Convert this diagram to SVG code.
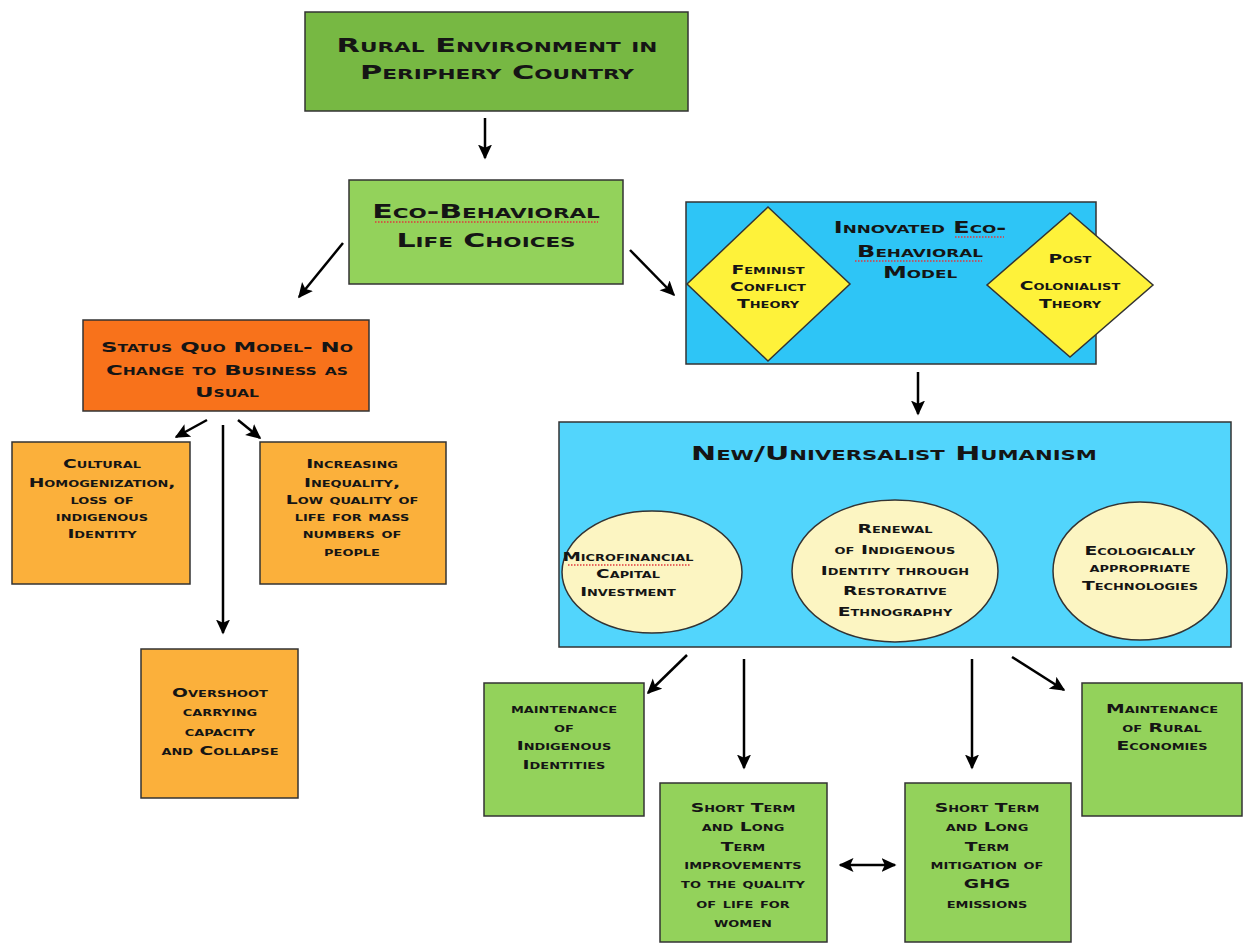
<svg xmlns="http://www.w3.org/2000/svg" width="1243" height="946" viewBox="0 0 1243 946">
<defs>
<marker id="ah" viewBox="0 0 10 10" refX="9" refY="5" markerWidth="6" markerHeight="6" orient="auto-start-reverse" markerUnits="strokeWidth">
<path d="M0,0.3 L10,5 L0,9.7 L2.2,5 z" fill="#000"/>
</marker>
<style>
.box{stroke:#333;stroke-width:1.5}
.t{font-family:"DejaVu Sans","Liberation Sans",sans-serif;font-weight:bold;font-variant:small-caps;text-anchor:middle;fill:#151515}
.c{stroke:#000;stroke-width:2.5;fill:none}
.sp{stroke:#e0393e;stroke-width:1.5;stroke-dasharray:1.5 1.5;fill:none}
</style>
</defs>
<rect width="1243" height="946" fill="#fff"/>

<g id="connectors">
<line class="c" x1="485" y1="118" x2="485" y2="158" marker-end="url(#ah)"/>
<line class="c" x1="343" y1="243" x2="299" y2="297" marker-end="url(#ah)"/>
<line class="c" x1="630" y1="250" x2="674" y2="295" marker-end="url(#ah)"/>
<line class="c" x1="918" y1="372" x2="918" y2="414" marker-end="url(#ah)"/>
<line class="c" x1="207" y1="420" x2="176" y2="437" marker-end="url(#ah)"/>
<line class="c" x1="238" y1="420" x2="260" y2="438" marker-end="url(#ah)"/>
<line class="c" x1="223" y1="425" x2="223" y2="633" marker-end="url(#ah)"/>
<line class="c" x1="742" y1="565" x2="792" y2="565" marker-start="url(#ah)" marker-end="url(#ah)"/>
<line class="c" x1="1000" y1="565" x2="1052" y2="565" marker-start="url(#ah)" marker-end="url(#ah)"/>
<line class="c" x1="687" y1="655" x2="648" y2="693" marker-end="url(#ah)"/>
<line class="c" x1="744" y1="659" x2="744" y2="768" marker-end="url(#ah)"/>
<line class="c" x1="972" y1="659" x2="972" y2="768" marker-end="url(#ah)"/>
<line class="c" x1="1012" y1="657" x2="1064" y2="690" marker-end="url(#ah)"/>
<line class="c" x1="840" y1="865" x2="895" y2="865" marker-start="url(#ah)" marker-end="url(#ah)"/>
</g>

<g id="rural-environment">
<rect class="box" x="305" y="12" width="383" height="99" fill="#77b843"/>
<g transform="translate(497 0) scale(1.6 1)">
<text class="t" x="0" y="52" font-size="19">Rural Environment in</text>
<text class="t" x="0" y="79" font-size="19">Periphery Country</text>
</g>
</g>

<g id="eco-behavioral">
<rect class="box" x="349" y="180" width="274" height="104" fill="#93d25b"/>
<g transform="translate(486 0) scale(1.58 1)">
<text class="t" x="0" y="218" font-size="19">Eco-Behavioral</text>
<text class="t" x="0" y="247" font-size="19">Life Choices</text>
</g>
<line class="sp" x1="375" y1="222" x2="598" y2="222"/>
</g>

<g id="innovated-model">
<rect class="box" x="686" y="202" width="410" height="162" fill="#2ec5f6"/>
<g transform="translate(920 0) scale(1.6 1)">
<text class="t" x="0" y="233" font-size="15">Innovated Eco-</text>
<text class="t" x="0" y="257" font-size="15">Behavioral</text>
<text class="t" x="0" y="278" font-size="15">Model</text>
</g>
<line class="sp" x1="955" y1="237" x2="1004" y2="237"/>
<line class="sp" x1="855" y1="261" x2="982" y2="261"/>
</g>

<g id="feminist-conflict-theory">
<polygon class="box" points="768,207 850,284 768,361 687,284" fill="#fef23a"/>
<g transform="translate(768 0) scale(1.5 1)">
<text class="t" x="0" y="274" font-size="12.5">Feminist</text>
<text class="t" x="0" y="291" font-size="12.5">Conflict</text>
<text class="t" x="0" y="308" font-size="12.5">Theory</text>
</g>
</g>

<g id="post-colonialist-theory">
<polygon class="box" points="1070,213 1153,285 1070,357 987,285" fill="#fef23a"/>
<g transform="translate(1070 0) scale(1.5 1)">
<text class="t" x="0" y="263" font-size="12.5">Post</text>
<text class="t" x="0" y="290" font-size="12.5">Colonialist</text>
<text class="t" x="0" y="308" font-size="12.5">Theory</text>
</g>
</g>

<g id="new-universalist-humanism">
<rect class="box" x="559" y="422" width="672" height="225" fill="#52d5fc"/>
<g transform="translate(894 0) scale(1.5 1)">
<text class="t" x="0" y="460" font-size="20">New/Universalist Humanism</text>
</g>
</g>

<g id="microfinancial">
<ellipse class="box" cx="652" cy="572" rx="90" ry="61" fill="#fcf5c2"/>
<g transform="translate(628 0) scale(1.48 1)">
<text class="t" x="0" y="561" font-size="12.5">Microfinancial</text>
<text class="t" x="0" y="578" font-size="12.5">Capital</text>
<text class="t" x="0" y="596" font-size="12.5">Investment</text>
</g>
<line class="sp" x1="568" y1="565" x2="690" y2="565"/>
</g>

<g id="renewal">
<ellipse class="box" cx="895" cy="571" rx="103" ry="71" fill="#fcf5c2"/>
<g transform="translate(895 0) scale(1.5 1)">
<text class="t" x="0" y="533" font-size="12.5">Renewal</text>
<text class="t" x="0" y="554" font-size="12.5">of Indigenous</text>
<text class="t" x="0" y="575" font-size="12.5">Identity through</text>
<text class="t" x="0" y="595" font-size="12.5">Restorative</text>
<text class="t" x="0" y="616" font-size="12.5">Ethnography</text>
</g>
</g>

<g id="ecological-technologies">
<ellipse class="box" cx="1140" cy="571" rx="87" ry="69" fill="#fcf5c2"/>
<g transform="translate(1140 0) scale(1.5 1)">
<text class="t" x="0" y="555" font-size="12.5">Ecologically</text>
<text class="t" x="0" y="572" font-size="12.5">appropriate</text>
<text class="t" x="0" y="590" font-size="12.5">Technologies</text>
</g>
</g>

<g id="status-quo">
<rect class="box" x="83" y="320" width="286" height="91" fill="#f8721b"/>
<g transform="translate(227 0) scale(1.6 1)">
<text class="t" x="0" y="352" font-size="14.3">Status Quo Model- No</text>
<text class="t" x="0" y="375" font-size="14.3">Change to Business as</text>
<text class="t" x="0" y="397" font-size="14.3">Usual</text>
</g>
</g>

<g id="cultural-homogenization">
<rect class="box" x="12" y="442" width="178" height="142" fill="#fbb03b"/>
<g transform="translate(102 0) scale(1.5 1)">
<text class="t" x="0" y="468" font-size="12.5">Cultural</text>
<text class="t" x="0" y="487" font-size="12.5">Homogenization,</text>
<text class="t" x="0" y="504" font-size="12.5">loss of</text>
<text class="t" x="0" y="521" font-size="12.5">indigenous</text>
<text class="t" x="0" y="538" font-size="12.5">Identity</text>
</g>
</g>

<g id="increasing-inequality">
<rect class="box" x="260" y="442" width="186" height="142" fill="#fbb03b"/>
<g transform="translate(352 0) scale(1.5 1)">
<text class="t" x="0" y="468" font-size="12.5">Increasing</text>
<text class="t" x="0" y="487" font-size="12.5">Inequality,</text>
<text class="t" x="0" y="504" font-size="12.5">Low quality of</text>
<text class="t" x="0" y="521" font-size="12.5">life for mass</text>
<text class="t" x="0" y="538" font-size="12.5">numbers of</text>
<text class="t" x="0" y="556" font-size="12.5">people</text>
</g>
</g>

<g id="overshoot">
<rect class="box" x="141" y="649" width="157" height="149" fill="#fbb03b"/>
<g transform="translate(220 0) scale(1.5 1)">
<text class="t" x="0" y="697" font-size="12.5">Overshoot</text>
<text class="t" x="0" y="716" font-size="12.5">carrying</text>
<text class="t" x="0" y="736" font-size="12.5">capacity</text>
<text class="t" x="0" y="755" font-size="12.5">and Collapse</text>
</g>
</g>

<g id="maintenance-identities">
<rect class="box" x="484" y="683" width="160" height="133" fill="#93d25b"/>
<g transform="translate(564 0) scale(1.5 1)">
<text class="t" x="0" y="713" font-size="12.5">maintenance</text>
<text class="t" x="0" y="732" font-size="12.5">of</text>
<text class="t" x="0" y="750" font-size="12.5">Indigenous</text>
<text class="t" x="0" y="769" font-size="12.5">Identities</text>
</g>
</g>

<g id="quality-of-life-women">
<rect class="box" x="660" y="783" width="167" height="159" fill="#93d25b"/>
<g transform="translate(743 0) scale(1.5 1)">
<text class="t" x="0" y="812" font-size="12.5">Short Term</text>
<text class="t" x="0" y="831" font-size="12.5">and Long</text>
<text class="t" x="0" y="851" font-size="12.5">Term</text>
<text class="t" x="0" y="869" font-size="12.5">improvements</text>
<text class="t" x="0" y="888" font-size="12.5">to the quality</text>
<text class="t" x="0" y="908" font-size="12.5">of life for</text>
<text class="t" x="0" y="927" font-size="12.5">women</text>
</g>
</g>

<g id="ghg-mitigation">
<rect class="box" x="905" y="783" width="166" height="159" fill="#93d25b"/>
<g transform="translate(987 0) scale(1.5 1)">
<text class="t" x="0" y="812" font-size="12.5">Short Term</text>
<text class="t" x="0" y="831" font-size="12.5">and Long</text>
<text class="t" x="0" y="851" font-size="12.5">Term</text>
<text class="t" x="0" y="869" font-size="12.5">mitigation of</text>
<text class="t" x="0" y="888" font-size="12.5">GHG</text>
<text class="t" x="0" y="908" font-size="12.5">emissions</text>
</g>
</g>

<g id="maintenance-rural-economies">
<rect class="box" x="1082" y="683" width="160" height="133" fill="#93d25b"/>
<g transform="translate(1162 0) scale(1.5 1)">
<text class="t" x="0" y="713" font-size="12.5">Maintenance</text>
<text class="t" x="0" y="732" font-size="12.5">of Rural</text>
<text class="t" x="0" y="750" font-size="12.5">Economies</text>
</g>
</g>
</svg>
